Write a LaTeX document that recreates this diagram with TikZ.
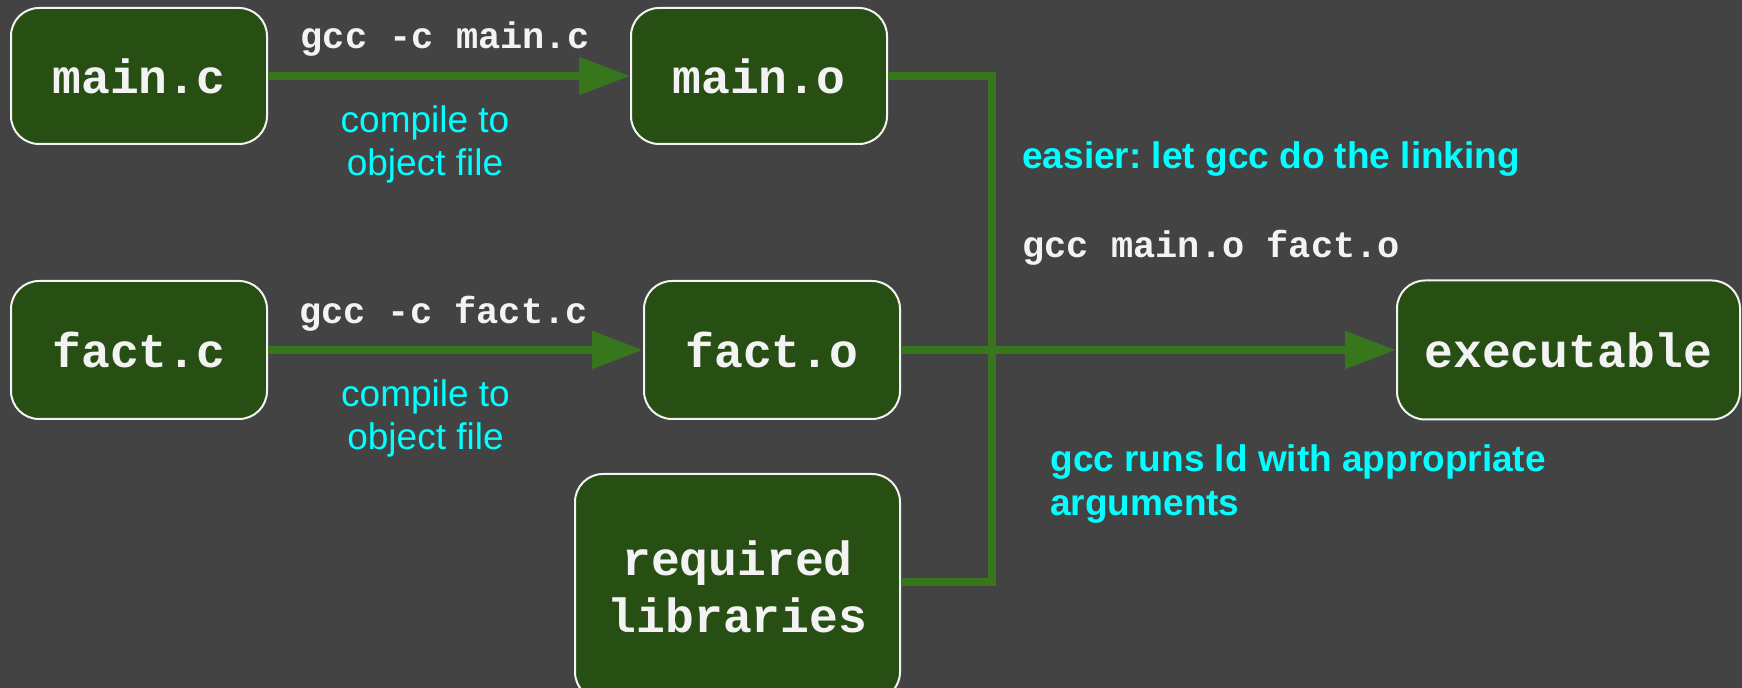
\documentclass[tikz,border=0pt]{standalone}
\usepackage{fontspec}
\setmainfont{Liberation Sans}
\newfontfamily\codefont{Liberation Mono}
\usetikzlibrary{arrows.meta, positioning, calc}
\definecolor{slate}{HTML}{434343}
\definecolor{boxgreen}{HTML}{274E13}
\definecolor{linkgreen}{HTML}{38761D}
\definecolor{note}{HTML}{00FFFF}
\definecolor{paper}{HTML}{F3F3F3}
\frenchspacing

\begin{document}
\begin{tikzpicture}[
  x=0.5pt, y=-0.5pt,
  >={Triangle[length=25.5pt, width=18pt]},
  arr/.style={->, line width=4pt, linkgreen},
  bus/.style={line width=4pt, linkgreen, line join=miter},
]

% =============================================
% Styles: file boxes and labels
% =============================================
\tikzset{
  filebox/.style 2 args={
    draw=paper, line width=1pt, fill=boxgreen, rounded corners=14pt,
    minimum width=#1, minimum height=#2, text=paper, align=center,
    font=\codefont\bfseries\fontsize{24}{28.5}\selectfont, inner sep=0pt,
  },
  cmd/.style={text=paper, inner sep=0pt,
    font=\codefont\bfseries\fontsize{18.5}{22}\selectfont},
  hint/.style={text=note, inner sep=0pt, align=center,
    font=\fontsize{18.5}{21.5}\selectfont},
  hintbold/.style={text=note, inner sep=0pt, align=left,
    font=\bfseries\fontsize{18.5}{22}\selectfont},
}

% =============================================
% Background
% =============================================
\path[use as bounding box, fill=slate] (0,0) rectangle (1742,688);

% =============================================
% Sources and objects
% =============================================
\node[filebox={128pt}{68pt}] (mainc) at (139,76) {main.c};
\node[filebox={128pt}{68pt}] (maino) at (759,76) {main.o};
\node[filebox={128pt}{69pt}] (factc) at (139,350) {fact.c};
\node[filebox={128pt}{69pt}] (facto) at (772,350) {fact.o};
\node[filebox={162.5pt}{113pt}] (libs) at (737.5,587) {required\\libraries};

% =============================================
% Result
% =============================================
\node[filebox={171.5pt}{69.5pt}] (exe) at (1568.5,350) {executable};

% =============================================
% Compile steps
% =============================================
\draw[arr] (mainc.east) -- (maino.west)
  node[cmd, midway, anchor=base, yshift=13.5pt, xshift=-2pt] {gcc -c main.c}
  node[hint, midway, below=13pt, xshift=-12pt] {compile to\\object file};

\draw[arr] (factc.east) -- (facto.west)
  node[cmd, midway, anchor=base, yshift=13pt, xshift=-6pt] {gcc -c fact.c}
  node[hint, midway, below=13pt, xshift=-15pt] {compile to\\object file};

% =============================================
% Linking: objects and libraries join the bus
% =============================================
\coordinate (bus) at (992,350);
\draw[bus] (maino.east) -- (maino.east -| bus) -- ([yshift=2.5pt]libs.east -| bus)
  -- ([yshift=2.5pt]libs.east);
\draw[arr] (facto.east) -- (exe.west);

% =============================================
% Notes on the right
% =============================================
\node[hintbold, anchor=base west] (easier) at (1022,169) {easier: let gcc do the linking};
\node[cmd, anchor=base west] (linkcmd) at (1022,258) {gcc main.o fact.o};
\node[hintbold, anchor=north west] (ldnote) at (1050,444)
  {gcc runs ld with appropriate\\arguments};

\end{tikzpicture}
\end{document}
